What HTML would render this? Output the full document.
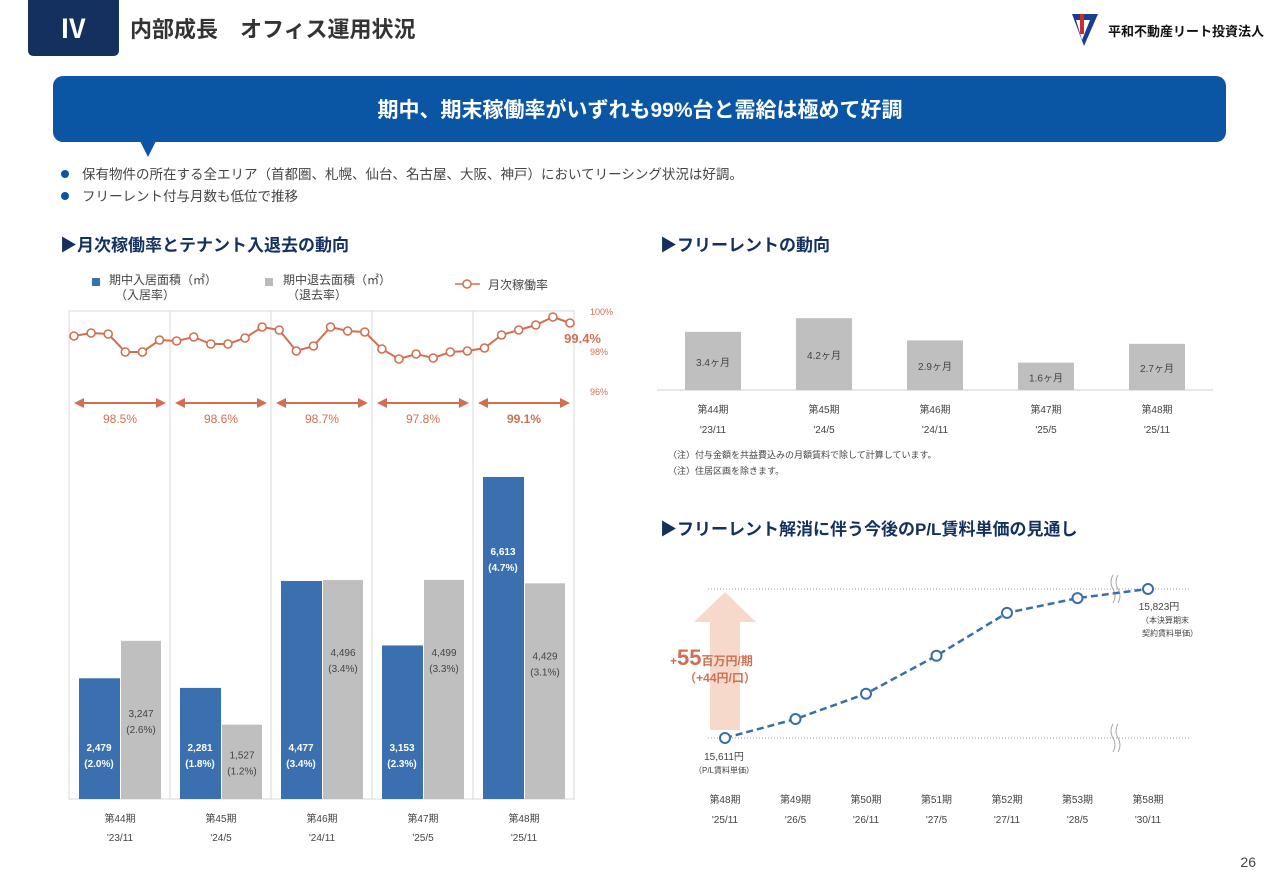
<!DOCTYPE html>
<html><head><meta charset="utf-8">
<style>
body{margin:0;width:1280px;height:886px;background:#fff;overflow:hidden;font-family:"Liberation Sans","Noto Sans CJK JP",sans-serif;}
svg text{font-family:"Liberation Sans","Noto Sans CJK JP",sans-serif;}
</style></head>
<body>
<svg id="s" width="1280" height="886" viewBox="0 0 1280 886" xmlns="http://www.w3.org/2000/svg">
<g>
<path d="M28 0 H119 V50 Q119 56 113 56 H34 Q28 56 28 50 Z" fill="#13305f"/>
<text x="73" y="38" fill="#fff" font-size="26" font-weight="bold" text-anchor="middle" font-family="Liberation Serif,serif">Ⅳ</text>
<text x="130" y="37" fill="#333" font-size="22" font-weight="bold">内部成長　オフィス運用状況</text>
<g>
<path d="M1072 14 L1098 14 L1084 46 Z" fill="#1a3d8f"/><path d="M1076 20 L1090 20 L1082 40 Z" fill="#fff"/><rect x="1080" y="14" width="4" height="20" fill="#d12a2a"/>
<text x="1108" y="36" font-size="13" font-weight="bold" fill="#111">平和不動産リート投資法人</text></g>
</g>
<g>
<rect x="53" y="76" width="1173" height="66" rx="10" fill="#0a56a5"/>
<path d="M140 141 L148 157 L156 141 Z" fill="#0a56a5"/>
<text x="640" y="117" fill="#fff" font-size="21" font-weight="bold" text-anchor="middle">期中、期末稼働率がいずれも99%台と需給は極めて好調</text>
</g>
<g font-size="13.5" fill="#444">
<circle cx="65" cy="174" r="4" fill="#0a56a5"/><text x="82" y="179">保有物件の所在する全エリア（首都圏、札幌、仙台、名古屋、大阪、神戸）においてリーシング状況は好調。</text>
<circle cx="65" cy="196" r="4" fill="#0a56a5"/><text x="82" y="201">フリーレント付与月数も低位で推移</text>
</g>
<text x="60" y="251" font-size="17" font-weight="bold" fill="#13305f">▶月次稼働率とテナント入退去の動向</text>
<text x="660" y="251" font-size="17" font-weight="bold" fill="#13305f">▶フリーレントの動向</text>
<text x="660" y="535" font-size="17" font-weight="bold" fill="#13305f">▶フリーレント解消に伴う今後のP/L賃料単価の見通し</text>
<g font-size="12" fill="#444">
<rect x="92" y="278" width="8" height="8" fill="#3a70b0"/><text x="109" y="284">期中入居面積（㎡）</text><text x="115" y="299">（入居率）</text>
<rect x="265" y="278" width="8" height="8" fill="#bbb"/><text x="283" y="284">期中退去面積（㎡）</text><text x="287" y="299">（退去率）</text>
<line x1="455" y1="284" x2="480" y2="284" stroke="#d07050" stroke-width="1.5"/><circle cx="467" cy="284" r="4" fill="#fff" stroke="#d07050" stroke-width="1.5"/><text x="488" y="289">月次稼働率</text>
</g>
<g id="left"></g>
<g id="fr"></g>
<text x="668" y="458" font-size="9" fill="#444">（注）付与金額を共益費込みの月額賃料で除して計算しています。</text>
<text x="668" y="474" font-size="9" fill="#444">（注）住居区画を除きます。</text>
<g id="pl"></g>
<text x="1256" y="867" font-size="14" fill="#444" text-anchor="end">26</text>
</svg>
<script>
const periods=["第44期","第45期","第46期","第47期","第48期"];
const periodDates=["'23/11","'24/5","'24/11","'25/5","'25/11"];
const moveIn=[2479,2281,4477,3153,6613];
const moveInRate=["(2.0%)","(1.8%)","(3.4%)","(2.3%)","(4.7%)"];
const moveOut=[3247,1527,4496,4499,4429];
const moveOutRate=["(2.6%)","(1.2%)","(3.4%)","(3.3%)","(3.1%)"];
const monthly=[98.75,98.9,98.85,97.95,97.95,98.55, 98.5,98.7,98.35,98.35,98.65,99.2, 99.05,98.0,98.25,99.2,99.0,98.95, 98.1,97.6,97.85,97.65,97.95,98.0, 98.15,98.8,99.05,99.3,99.7,99.4];
const periodAvg=["98.5%","98.6%","98.7%","97.8%","99.1%"];
const occTicks=[100,98,96];
const frMonths=[3.4,4.2,2.9,1.6,2.7];
const plLabels=["第48期","第49期","第50期","第51期","第52期","第53期","第58期"];
const plDates=["'25/11","'26/5","'26/11","'27/5","'27/11","'28/5","'30/11"];
const plRent=[15611,15638,15674,15728,15789,15810,15823];

const NS="http://www.w3.org/2000/svg";
function el(p,t,a,txt){const e=document.createElementNS(NS,t);for(const k in a)e.setAttribute(k,a[k]);if(txt!==undefined)e.textContent=txt;p.appendChild(e);return e;}

const L=document.getElementById('left');
const x0=69,gw=101,base=799;
const yb=v=>base-v*0.0487;
const yo=v=>311+(100-v)*20;
let f=el(L,'rect',{x:69,y:311,width:505,height:488,fill:'none',stroke:'#d8d8d8'});

for(let i=1;i<5;i++){let l=el(L,'line',{x1:x0+i*gw,y1:311,x2:x0+i*gw,y2:799,stroke:'#d8d8d8'});}
occTicks.forEach(t=>{let e=el(L,'text',{x:590,y:yo(t)+4,'font-size':9,fill:'#d07050'},t+'%');});
periods.forEach((p,i)=>{
 const gx=x0+i*gw;
 let b=el(L,'rect',{x:gx+10,y:yb(moveIn[i]),width:41,height:base-yb(moveIn[i]),fill:'#3a70b0'});
 
 let b2=el(L,'rect',{x:gx+52,y:yb(moveOut[i]),width:40,height:base-yb(moveOut[i]),fill:'#bfbfbf'});
 
 const iy=i==4?yb(moveIn[i])+78:base-48;
 let t1=el(L,'text',{x:gx+30,y:iy,'font-size':10,fill:'#fff','font-weight':'bold','text-anchor':'middle'},moveIn[i].toLocaleString('en-US'));
 
 el(L,'text',{x:gx+30,y:iy+16,'font-size':10,fill:'#fff','font-weight':'bold','text-anchor':'middle'},moveInRate[i]);
 const oy=i==1?yb(moveOut[i])+34:yb(moveOut[i])+76;
 let t2=el(L,'text',{x:gx+72,y:oy,'font-size':10,fill:'#444','text-anchor':'middle'},moveOut[i].toLocaleString('en-US'));
 
 el(L,'text',{x:gx+72,y:oy+16,'font-size':10,fill:'#444','text-anchor':'middle'},moveOutRate[i]);
 let c=el(L,'text',{x:gx+51,y:822,'font-size':10,fill:'#444','text-anchor':'middle'},p);
 
 el(L,'text',{x:gx+51,y:841,'font-size':10,fill:'#444','text-anchor':'middle'},periodDates[i]);
 let a=el(L,'g',{});
 el(a,'line',{x1:gx+10,y1:403,x2:gx+92,y2:403,stroke:'#d07050','stroke-width':2});
 el(a,'path',{d:`M${gx+5} 403 l10 -5 v10 z M${gx+97} 403 l-10 -5 v10 z`,fill:'#d07050'});
 let av=el(L,'text',{x:gx+51,y:423,'font-size':12,fill:'#d07050','text-anchor':'middle','font-weight':i==4?'bold':'normal'},periodAvg[i]);
 
});
const ox=i=>74+i*(496/29);
let pts=monthly.map((v,i)=>ox(i)+','+yo(v)).join(' ');
let ln=el(L,'polyline',{points:pts,fill:'none',stroke:'#d07050','stroke-width':2});

monthly.forEach((v,i)=>{let c=el(L,'circle',{cx:ox(i),cy:yo(v),r:4,fill:'#fff',stroke:'#d07050','stroke-width':1.6});});
let lv=el(L,'text',{x:601,y:343,'font-size':13,'font-weight':'bold',fill:'#d07050','text-anchor':'end'},monthly[29].toFixed(1)+'%');


const F=document.getElementById('fr');
const fb=390,fs=17.1;
el(F,'line',{x1:657,y1:fb,x2:1213,y2:fb,stroke:'#ccc'});
frMonths.forEach((v,i)=>{
 const cx=713+i*111;
 let r=el(F,'rect',{x:cx-28,y:fb-v*fs,width:56,height:v*fs,fill:'#bfbfbf'});
 
 let t=el(F,'text',{x:cx,y:fb-v*fs/2+5,'font-size':10,fill:'#444','text-anchor':'middle'},v.toFixed(1)+'ヶ月');
 
 let c=el(F,'text',{x:cx,y:413,'font-size':10,fill:'#444','text-anchor':'middle'},periods[i]);
 
 el(F,'text',{x:cx,y:433,'font-size':10,fill:'#444','text-anchor':'middle'},periodDates[i]);
});

const P=document.getElementById('pl');
const py=v=>738-(v-15611)*0.703;
const px=i=>725+i*70.5;
el(P,'line',{x1:708,y1:py(plRent[6]),x2:1190,y2:py(plRent[6]),stroke:'#8aa0bb','stroke-dasharray':'1 2'});
el(P,'line',{x1:708,y1:py(plRent[0]),x2:1190,y2:py(plRent[0]),stroke:'#8aa0bb','stroke-dasharray':'1 2'});
let ar=el(P,'path',{d:'M710 730 V622 H694 L725 592 L756 622 H740 V730 Z',fill:'#f7d9cc'});

let inc=el(P,'text',{x:670,y:665,fill:'#d07050','font-weight':'bold','font-size':12},'+');

el(inc,'tspan',{'font-size':22},'55');el(inc,'tspan',{'font-size':12},'百万円/期');
el(P,'text',{x:720,y:682,fill:'#d07050','font-weight':'bold','font-size':12,'text-anchor':'middle'},'（+44円/口）');
[1113,1113].forEach((x,k)=>{const y=k?py(plRent[0]):py(plRent[6]);el(P,'path',{d:`M${x} ${y-14} q-4 7 0 14 q4 7 0 14 M${x+5} ${y-14} q-4 7 0 14 q4 7 0 14`,fill:'none',stroke:'#aaa'});});
let pl=el(P,'polyline',{points:plRent.map((v,i)=>px(i)+','+py(v)).join(' '),fill:'none',stroke:'#3a6ea8','stroke-width':2.5,'stroke-dasharray':'7 4'});

plRent.forEach((v,i)=>{
 let c=el(P,'circle',{cx:px(i),cy:py(v),r:5,fill:'#fff',stroke:'#3a6ea8','stroke-width':2});
 
 let t=el(P,'text',{x:px(i),y:803,'font-size':10,fill:'#444','text-anchor':'middle'},plLabels[i]);
 
 el(P,'text',{x:px(i),y:823,'font-size':10,fill:'#444','text-anchor':'middle'},plDates[i]);
});
el(P,'text',{x:724,y:760,'font-size':10,fill:'#444','text-anchor':'middle'},plRent[0].toLocaleString('en-US')+'円');
el(P,'text',{x:724,y:773,'font-size':8,fill:'#444','text-anchor':'middle'},'（P/L賃料単価）');
el(P,'text',{x:1159,y:610,'font-size':10,fill:'#444','text-anchor':'middle'},plRent[6].toLocaleString('en-US')+'円');
el(P,'text',{x:1165,y:623,'font-size':8,fill:'#444','text-anchor':'middle'},'（本決算期末');
el(P,'text',{x:1170,y:636,'font-size':8,fill:'#444','text-anchor':'middle'},'契約賃料単価）');
</script>
</body></html>
